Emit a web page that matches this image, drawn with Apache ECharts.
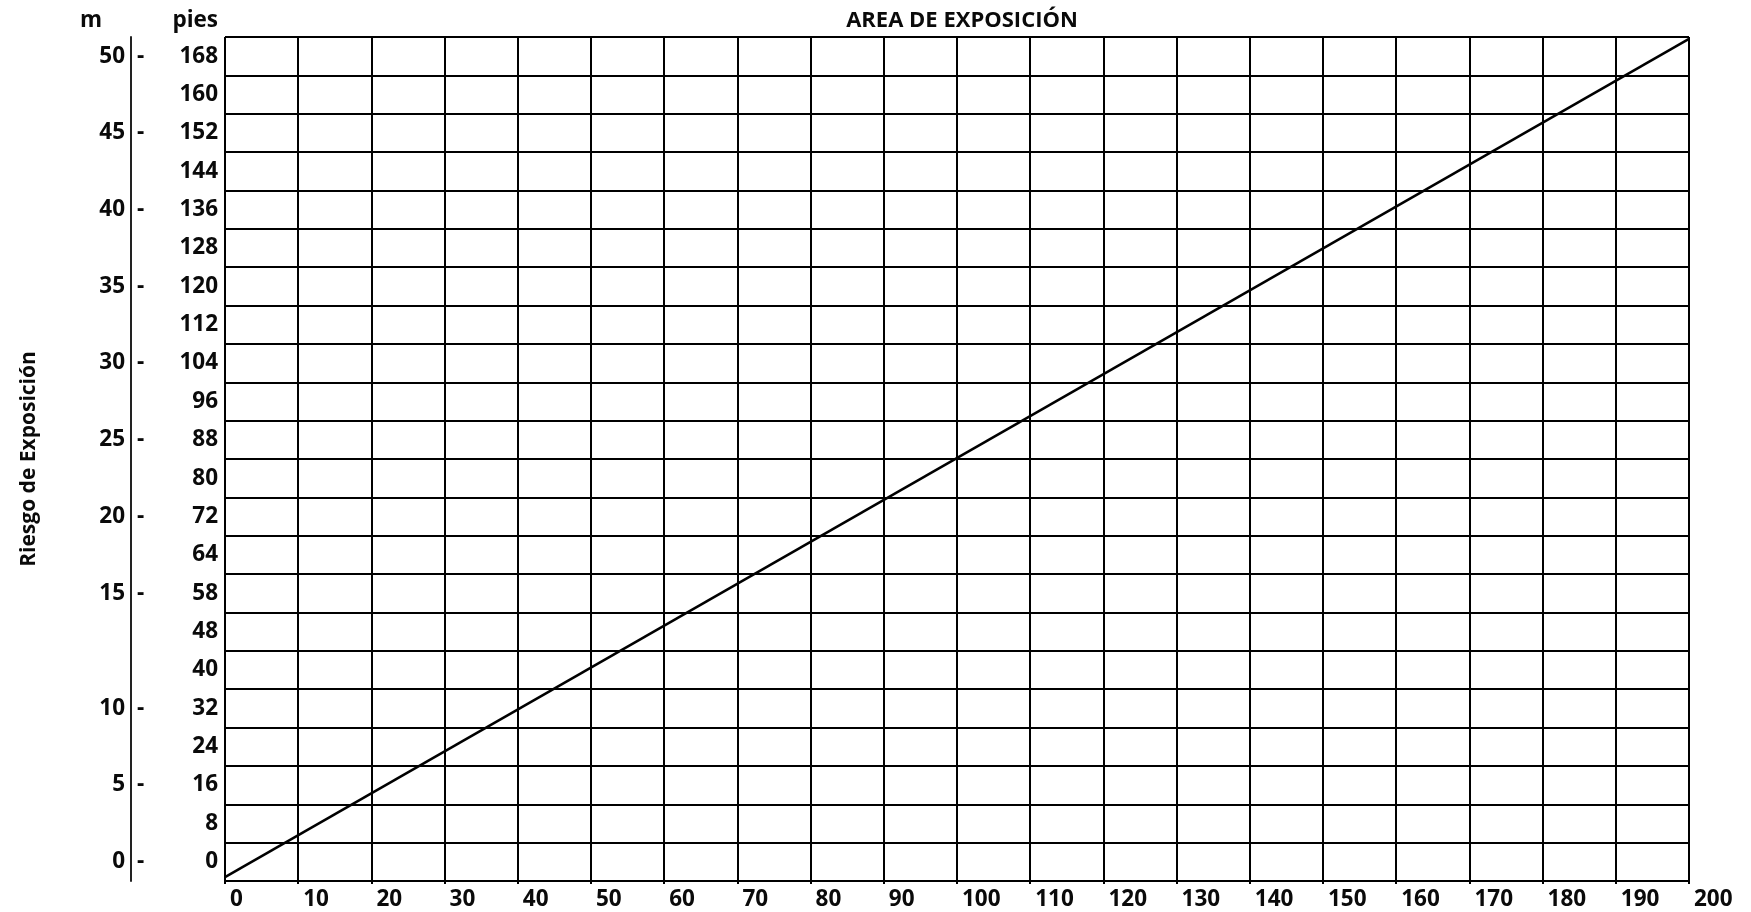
<!DOCTYPE html>
<html>
<head>
<meta charset="utf-8">
<script src="https://cdn.jsdelivr.net/npm/echarts@6/dist/echarts.min.js"></script>
<style>
html,body{margin:0;padding:0;background:#fff;}
#chart{width:1751px;height:912px;}
</style>
</head>
<body>
<div id="chart"></div>
<script>
// Data (bottom to top)
const piesLabels = ['0','8','16','24','32','40','48','58','64','72','80','88','96','104','112','120','128','136','144','152','160','168'];
const mLabels = ['0','','5','','10','','','15','','20','','25','','30','','35','','40','','45','','50'];
const xTicks = { min: 0, max: 200, interval: 10 };
// Diagonal line: area (x) vs. row position on the grid (y, in rows from bottom)
const lineArea = [0, 200];
const lineRows = [0.1, 21.95];

const FONT = 'Open Sans';
const TXT = '#0a0a0a';

const chart = echarts.init(document.getElementById('chart'));
const labelStyle = { fontFamily: FONT, fontWeight: 'bold', fontSize: 22.5, color: TXT };

chart.setOption({
  animation: false,
  backgroundColor: '#fff',
  title: {
    text: 'AREA DE EXPOSICIÓN',
    left: 957, top: 5, textAlign: 'center',
    textStyle: { fontFamily: FONT, fontWeight: 'bold', fontSize: 22, color: TXT }
  },
  grid: { left: 225, right: 62, top: 37, bottom: 31, containLabel: false },
  xAxis: {
    type: 'value', min: xTicks.min, max: xTicks.max, interval: xTicks.interval,
    axisLine: { show: true, lineStyle: { color: '#000', width: 2 } },
    axisTick: { show: true, length: 3, lineStyle: { color: '#000', width: 2 } },
    axisLabel: Object.assign({ align: 'left', padding: [0, 0, 0, 5], margin: 7 }, labelStyle),
    splitLine: { show: true, lineStyle: { color: '#000', width: 2 } }
  },
  yAxis: [
    {
      type: 'value', min: 0, max: piesLabels.length, interval: 1, position: 'left',
      axisLine: { show: false }, axisTick: { show: false }, axisLabel: { show: false },
      splitLine: { show: true, lineStyle: { color: '#000', width: 2 } },
      name: 'Riesgo de Exposición', nameLocation: 'middle', nameGap: 185,
      nameTextStyle: { fontFamily: FONT, fontWeight: 'bold', fontSize: 21, color: TXT }
    },
    {
      type: 'category', data: piesLabels, position: 'left', offset: 0,
      axisLine: { show: false }, axisTick: { show: false }, splitLine: { show: false },
      axisLabel: Object.assign({ interval: 0, margin: 7 }, labelStyle),
      name: 'pies', nameLocation: 'end', nameGap: 5,
      nameTextStyle: Object.assign({ align: 'right', verticalAlign: 'bottom', padding: [0, 7, 0, 0] }, labelStyle)
    },
    {
      type: 'category', data: piesLabels, position: 'left', offset: 94,
      axisLine: { show: true, lineStyle: { color: '#222', width: 2 } },
      axisTick: { show: false }, splitLine: { show: false },
      axisLabel: Object.assign({ interval: 0, inside: true, margin: 6,
        formatter: (v, i) => (mLabels[i] ? '-' : '') }, labelStyle),
      name: 'm', nameLocation: 'end', nameGap: 5,
      nameTextStyle: Object.assign({ align: 'right', verticalAlign: 'bottom', padding: [0, 29, 0, 0] }, labelStyle)
    },
    {
      type: 'category', data: piesLabels, position: 'left', offset: 94,
      axisLine: { show: false }, axisTick: { show: false }, splitLine: { show: false },
      axisLabel: Object.assign({ interval: 0, margin: 6,
        formatter: (v, i) => mLabels[i] }, labelStyle)
    }
  ],
  series: [{
    type: 'line', xAxisIndex: 0, yAxisIndex: 0, symbol: 'none',
    lineStyle: { color: '#000', width: 2.5 },
    data: lineArea.map((x, i) => [x, lineRows[i]])
  }]
});
</script>
</body>
</html>
